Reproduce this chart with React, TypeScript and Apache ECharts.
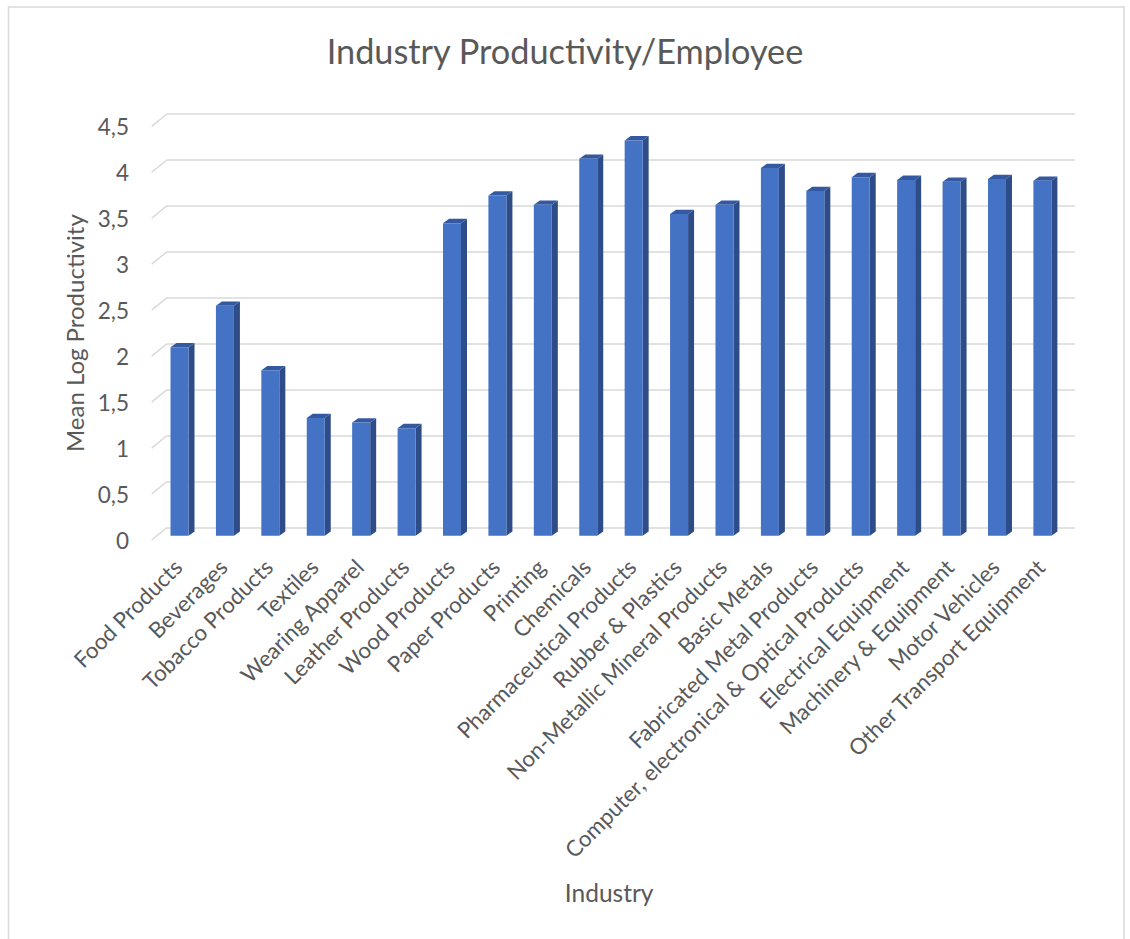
import React, { useEffect, useRef } from "react";
import * as echarts from "echarts";

const categories = [
  "Food Products",
  "Beverages",
  "Tobacco Products",
  "Textiles",
  "Wearing Apparel",
  "Leather Products",
  "Wood Products",
  "Paper Products",
  "Printing",
  "Chemicals",
  "Pharmaceutical Products",
  "Rubber & Plastics",
  "Non-Metallic Mineral Products",
  "Basic Metals",
  "Fabricated Metal Products",
  "Computer, electronical & Optical Products",
  "Electrical Equipment",
  "Machinery & Equipment",
  "Motor Vehicles",
  "Other Transport Equipment",
];

const values = [
  2.05, 2.5, 1.8, 1.28, 1.23, 1.17, 3.4, 3.7, 3.6, 4.1, 4.3, 3.5, 3.6, 4.0, 3.75,
  3.9, 3.87, 3.85, 3.88, 3.86,
];

const yTicks = [0, 0.5, 1, 1.5, 2, 2.5, 3, 3.5, 4, 4.5];

const FONT = "Lato";
const TEXT = "#595959";
const GRID = "#D9D9D9";

export default function App() {
  const ref = useRef<HTMLDivElement>(null);

  useEffect(() => {
    const chart = echarts.init(ref.current!, null, { renderer: "svg" });

    const option: any = {
      animation: false,
      backgroundColor: "#ffffff",
      title: {
        text: "Industry Productivity/Employee",
        left: "center",
        top: 28,
        textStyle: {
          fontFamily: FONT,
          fontSize: 34.3,
          fontWeight: "normal",
          color: TEXT,
        },
      },
      graphic: [
        {
          type: "rect",
          silent: true,
          shape: { x: 8.5, y: 7, width: 1115.5, height: 960 },
          style: { fill: "none", stroke: GRID, lineWidth: 1.5 },
        },
      ],
      grid: [
        { left: 166.7, right: 55, top: 114, bottom: 411.3 },
        { left: 155, right: 66.7, top: 126.3, bottom: 399 },
      ],
      xAxis: [
        {
          type: "category",
          gridIndex: 0,
          data: categories,
          axisLine: { show: false },
          axisTick: { show: false },
          axisLabel: { show: false },
        },
        {
          type: "category",
          gridIndex: 1,
          data: categories,
          axisLine: { show: false },
          axisTick: { show: false },
          axisLabel: {
            interval: 0,
            rotate: 45,
            margin: 23,
            fontFamily: FONT,
            fontSize: 22.3,
            color: TEXT,
          },
          name: "Industry",
          nameLocation: "middle",
          nameGap: 340,
          nameTextStyle: { fontFamily: FONT, fontSize: 24.5, color: TEXT },
        },
      ],
      yAxis: [
        {
          type: "value",
          gridIndex: 0,
          min: 0,
          max: 4.5,
          interval: 0.5,
          axisLine: { show: false },
          axisTick: { show: false },
          axisLabel: { show: false },
          splitLine: { show: true, lineStyle: { color: GRID, width: 1.5 } },
        },
        {
          type: "value",
          gridIndex: 1,
          min: 0,
          max: 4.5,
          interval: 0.5,
          axisLine: { show: false },
          axisTick: { show: false },
          splitLine: { show: false },
          axisLabel: {
            margin: 26,
            fontFamily: FONT,
            fontSize: 22.5,
            color: TEXT,
            formatter: (v: number) => String(v).replace(".", ","),
          },
          name: "Mean Log Productivity",
          nameLocation: "middle",
          nameGap: 64,
          nameTextStyle: { fontFamily: FONT, fontSize: 24, color: TEXT },
        },
      ],
      series: [
        {
          type: "custom",
          name: "side-wall",
          xAxisIndex: 0,
          yAxisIndex: 0,
          silent: true,
          z: 1,
          data: yTicks.map((t) => [0, t]),
          encode: { x: 0, y: 1 },
          renderItem: (params: any, api: any) => {
            const p = api.coord([0, api.value(1)]);
            const bw = api.size([1, 0])[0];
            const x0 = p[0] - bw / 2;
            return {
              type: "line",
              shape: { x1: x0, y1: p[1], x2: x0 - 15, y2: p[1] + 12.3 },
              style: { stroke: GRID, lineWidth: 1.5 },
            };
          },
        },
        {
          type: "custom",
          name: "Mean Log Productivity",
          xAxisIndex: 0,
          yAxisIndex: 0,
          z: 3,
          data: values.map((v, i) => [i, v]),
          encode: { x: 0, y: 1 },
          renderItem: (params: any, api: any) => {
            const i = api.value(0);
            const v = api.value(1);
            const top = api.coord([i, v]);
            const base = api.coord([i, 0]);
            const cx = top[0] - 9.9;
            const w = 18;
            const xl = cx - w / 2;
            const xr = cx + w / 2;
            const yt = top[1] + 8;
            const yb = base[1] + 8;
            const dx = 6;
            const dy = 4.3;
            return {
              type: "group",
              children: [
                {
                  type: "polygon",
                  shape: {
                    points: [
                      [xr, yt],
                      [xr + dx, yt - dy],
                      [xr + dx, yb - dy],
                      [xr, yb],
                    ],
                  },
                  style: { fill: "#2E4D88" },
                },
                {
                  type: "polygon",
                  shape: {
                    points: [
                      [xl, yt],
                      [xr, yt],
                      [xr + dx, yt - dy],
                      [xl + dx, yt - dy],
                    ],
                  },
                  style: { fill: "#3459A0" },
                },
                {
                  type: "rect",
                  shape: { x: xl, y: yt, width: w, height: yb - yt },
                  style: { fill: "#4472C4" },
                },
              ],
            };
          },
        },
      ],
    };

    chart.setOption(option);
    return () => chart.dispose();
  }, []);

  return (
    <div
      ref={ref}
      style={{
        position: "fixed",
        left: 0,
        top: 0,
        width: 1130,
        height: 939,
        background: "#fff",
      }}
    />
  );
}
